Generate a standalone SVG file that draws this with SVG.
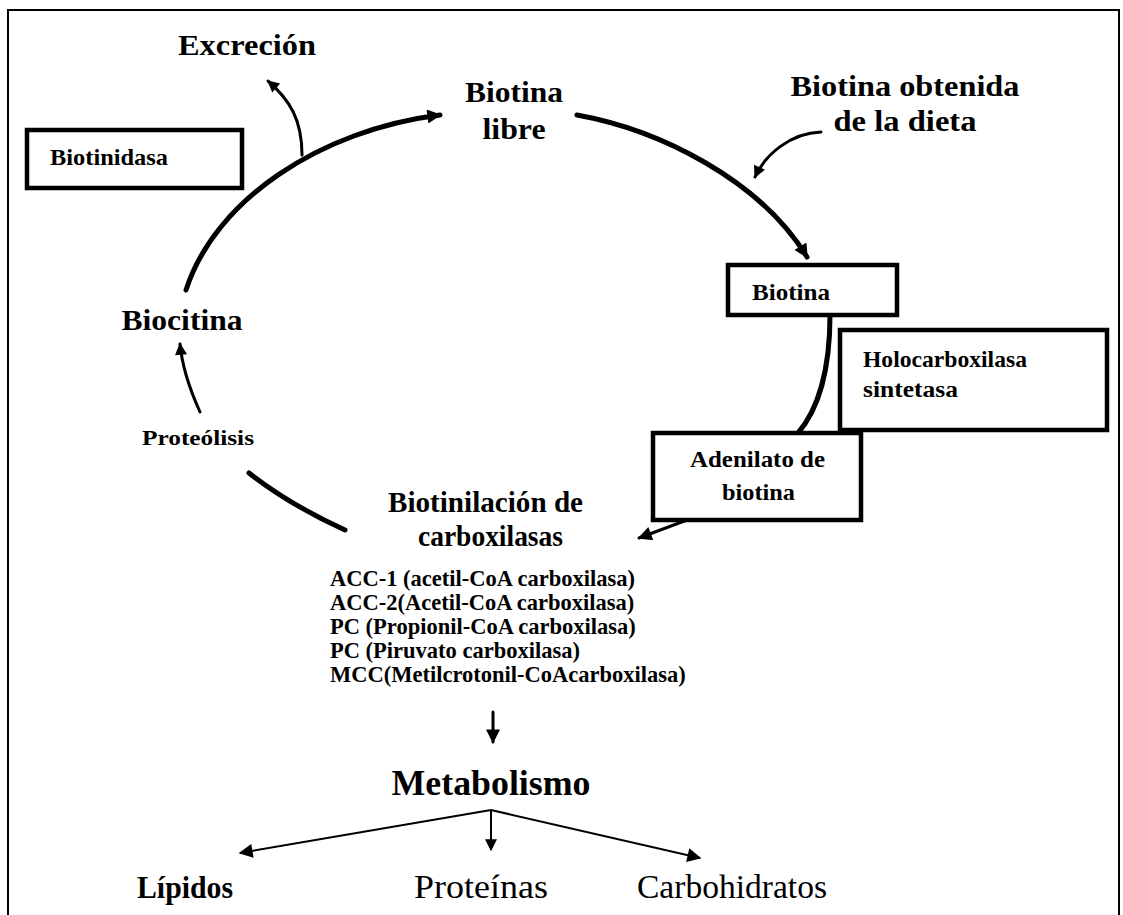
<svg xmlns="http://www.w3.org/2000/svg" width="1123" height="915" viewBox="0 0 1123 915">
<defs>
<style>
.t{font-family:"Liberation Serif","Times New Roman",serif;fill:#000}
.b{font-weight:bold}
.box{fill:#fff;stroke:#000;stroke-width:4.5}
.thick{fill:none;stroke:#000;stroke-width:5;stroke-linecap:round}
.mid{fill:none;stroke:#000;stroke-width:3;stroke-linecap:round}
.thin{fill:none;stroke:#000;stroke-width:2}
</style>
<marker id="ah" viewBox="0 0 10 10" refX="9" refY="5" markerWidth="17" markerHeight="14" markerUnits="userSpaceOnUse" orient="auto">
<path d="M0,0 L10,5 L0,10 z" fill="#000"/>
</marker>
<marker id="ahs" viewBox="0 0 10 10" refX="9" refY="5" markerWidth="14" markerHeight="12" markerUnits="userSpaceOnUse" orient="auto">
<path d="M0,0 L10,5 L0,10 z" fill="#000"/>
</marker>
</defs>
<rect width="1123" height="915" fill="#fff"/>
<rect x="8" y="10" width="1111" height="930" fill="none" stroke="#000" stroke-width="2"/>

<g id="connectors">
<path class="thick" d="M186,290 C215,200 320,130 440,115" marker-end="url(#ah)"/>
<path class="thick" d="M577,115 C660,130 760,180 807,257" marker-end="url(#ah)"/>
<path class="mid" d="M302,155 C302,120 290,100 268,81" marker-end="url(#ahs)"/>
<path class="mid" d="M821,132 C790,133 765,155 755,177" marker-end="url(#ahs)"/>
<path class="mid" d="M200,412 C190,390 182,365 180,344" marker-end="url(#ahs)"/>
<path class="thick" d="M249,473 Q290,505 345,530"/>
<path class="thick" d="M830,315 C830,370 818,410 798,433"/>
<path class="mid" d="M687,520 L639,538" marker-end="url(#ah)"/>
<path class="mid" d="M493,712 L493,742" marker-end="url(#ah)"/>
<path class="thin" d="M491,810 L240,853" marker-end="url(#ah)"/>
<path class="thin" d="M491,810 L491,850" marker-end="url(#ahs)"/>
<path class="thin" d="M491,810 L700,858" marker-end="url(#ah)"/>
</g>

<g id="excrecion"><text class="t b" x="247" y="55" font-size="29" text-anchor="middle" textLength="138" lengthAdjust="spacingAndGlyphs">Excreción</text></g>
<g id="biotinidasa"><rect class="box" x="27" y="130" width="215" height="58"/><text class="t b" x="50" y="165" font-size="23" textLength="118" lengthAdjust="spacingAndGlyphs">Biotinidasa</text></g>
<g id="biotina-libre"><text class="t b" x="514" y="102" font-size="29" text-anchor="middle" textLength="98" lengthAdjust="spacingAndGlyphs">Biotina</text><text class="t b" x="514" y="139" font-size="29" text-anchor="middle" textLength="63" lengthAdjust="spacingAndGlyphs">libre</text></g>
<g id="biotina-dieta"><text class="t b" x="905" y="96" font-size="29" text-anchor="middle" textLength="229" lengthAdjust="spacingAndGlyphs">Biotina obtenida</text><text class="t b" x="905" y="131" font-size="29" text-anchor="middle" textLength="143" lengthAdjust="spacingAndGlyphs">de la dieta</text></g>
<g id="biotina"><rect class="box" x="728" y="265" width="169" height="50"/><text class="t b" x="752" y="300" font-size="23" textLength="78" lengthAdjust="spacingAndGlyphs">Biotina</text></g>
<g id="holocarboxilasa"><rect class="box" x="840" y="330" width="267" height="100"/><text class="t b" x="863" y="367" font-size="23" textLength="164" lengthAdjust="spacingAndGlyphs">Holocarboxilasa</text><text class="t b" x="863" y="397" font-size="23" textLength="95" lengthAdjust="spacingAndGlyphs">sintetasa</text></g>
<g id="adenilato"><rect class="box" x="653" y="433" width="208" height="87"/><text class="t b" x="690" y="467" font-size="23" textLength="135" lengthAdjust="spacingAndGlyphs">Adenilato de</text><text class="t b" x="722" y="500" font-size="23" textLength="73" lengthAdjust="spacingAndGlyphs">biotina</text></g>
<g id="biocitina"><text class="t b" x="182" y="330" font-size="29" text-anchor="middle" textLength="121" lengthAdjust="spacingAndGlyphs">Biocitina</text></g>
<g id="proteolisis"><text class="t b" x="142" y="445" font-size="22" textLength="112" lengthAdjust="spacingAndGlyphs">Proteólisis</text></g>
<g id="biotinilacion"><text class="t b" x="388" y="512" font-size="30" textLength="195" lengthAdjust="spacingAndGlyphs">Biotinilación de</text><text class="t b" x="418" y="546" font-size="30" textLength="145" lengthAdjust="spacingAndGlyphs">carboxilasas</text></g>
<g id="carboxilasas-lista" class="t b" font-size="22.5">
<text x="330" y="586">ACC-1 (acetil-CoA carboxilasa)</text>
<text x="330" y="610">ACC-2(Acetil-CoA carboxilasa)</text>
<text x="330" y="634">PC (Propionil-CoA carboxilasa)</text>
<text x="330" y="658">PC (Piruvato carboxilasa)</text>
<text x="330" y="682">MCC(Metilcrotonil-CoAcarboxilasa)</text>
</g>
<g id="metabolismo"><text class="t b" x="491" y="795" font-size="36" text-anchor="middle" textLength="199" lengthAdjust="spacingAndGlyphs">Metabolismo</text></g>
<g id="lipidos"><text class="t b" x="185" y="898" font-size="31" text-anchor="middle" textLength="96" lengthAdjust="spacingAndGlyphs">Lípidos</text></g>
<g id="proteinas"><text class="t" x="481" y="898" font-size="34" text-anchor="middle" textLength="134" lengthAdjust="spacingAndGlyphs">Proteínas</text></g>
<g id="carbohidratos"><text class="t" x="732" y="898" font-size="34" text-anchor="middle" textLength="190" lengthAdjust="spacingAndGlyphs">Carbohidratos</text></g>
</svg>
